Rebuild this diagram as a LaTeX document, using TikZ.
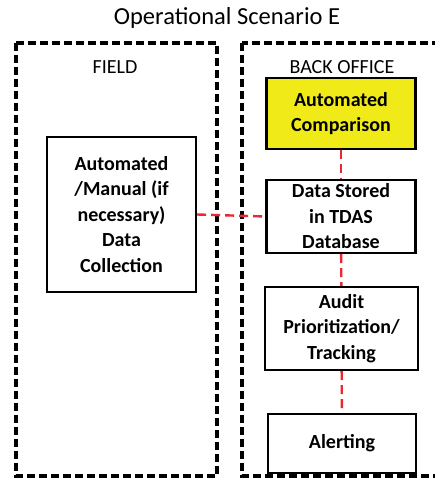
\documentclass[tikz,border=0pt]{standalone}
\usepackage{fontspec}
\setmainfont{Carlito}
\usetikzlibrary{positioning}
\definecolor{boxyellow}{RGB}{240,234,24}
\definecolor{linkred}{RGB}{232,40,50}
\tikzset{
    zone/.style={draw, line width=3.2pt, dash pattern=on 8pt off 4pt},
    stepbox/.style={draw, line width=2.2pt, minimum width=149pt, align=center,
        font=\fontsize{20}{25.5}\selectfont\bfseries, inner sep=1pt},
    link/.style={draw=linkred, line width=2.4pt, dash pattern=on 9pt off 5pt}
}

\begin{document}
\begin{tikzpicture}[x=1pt,y=-1pt]
    \useasboundingbox (0,0) rectangle (435,478);
    \node (title) at (227,18) {\fontsize{24.5}{28}\selectfont Operational Scenario E};

    % the two areas
    \draw[zone] (16,43) rectangle (217,476);
    \draw[zone] (242,43) rectangle (460,476);
    \node (field) at (115,67) {\fontsize{20}{24}\selectfont FIELD};
    \node (office) at (342,67) {\fontsize{20}{24}\selectfont BACK OFFICE};

    \node[stepbox, minimum width=149pt, minimum height=155pt] (collect) at (121.5,214.5)
        {Automated\\/Manual (if\\necessary)\\Data\\Collection};
    \node[stepbox, fill=boxyellow, minimum height=71pt] (compare) at (341,113.5)
        {Automated\\Comparison};
    \node[stepbox, minimum height=73pt] (stored) at (341,216.5)
        {Data Stored\\in TDAS\\Database};
    \node[stepbox, minimum width=153pt, minimum height=83pt] (audit) at (341.5,328.5)
        {Audit\\Prioritization/\\Tracking};
    \node[stepbox, minimum width=148pt, minimum height=59pt] (alert) at (342,443.5)
        {Alerting};

    \draw[link] (collect.east) -- (stored.west);
    \draw[link] (compare) -- (stored);
    \draw[link] (stored) -- (audit);
    \draw[link] (audit) -- (alert);
\end{tikzpicture}
\end{document}
